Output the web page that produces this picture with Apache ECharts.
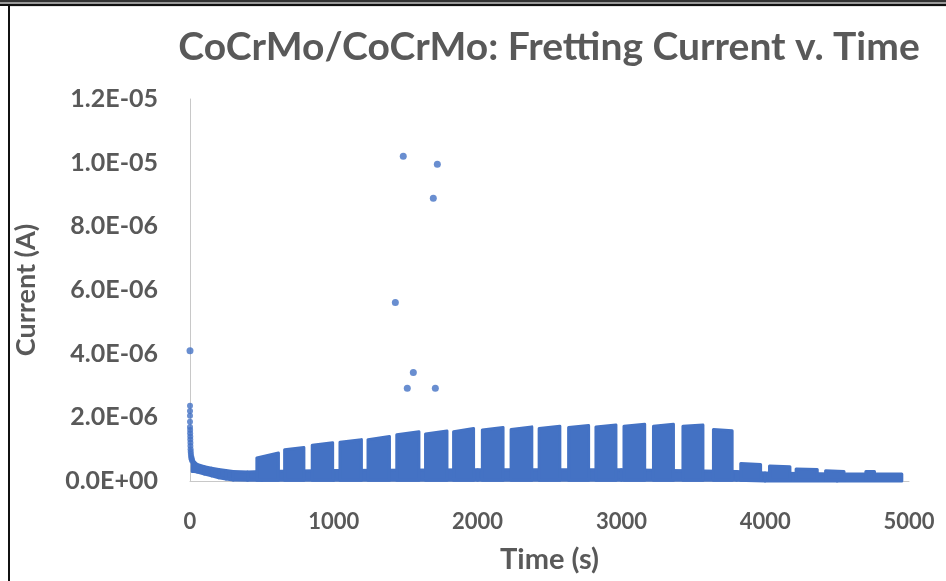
<!DOCTYPE html>
<html>
<head>
<meta charset="utf-8">
<script src="https://cdn.jsdelivr.net/npm/echarts@6/dist/echarts.min.js"></script>
<style>
html,body{margin:0;padding:0;background:#fff;}
#chart{width:946px;height:581px;}
</style>
</head>
<body>
<div id="chart"></div>
<script>
// ---- data (current in microamps, time in seconds) ----
const xTicks = [0, 1000, 2000, 3000, 4000, 5000];
const yTicks = [0, 2, 4, 6, 8, 10, 12];

// isolated spikes
const spikeTime = [0, 1428, 1483, 1511, 1553, 1692, 1706, 1720];
const spikeCurrent = [4.09, 5.61, 10.2, 2.91, 3.41, 8.88, 2.91, 9.95];

// initial transient right after immersion
const decayTime = [0, 0, 0, 0, 0, 1, 1, 2, 2, 3, 3, 4, 5, 6, 8, 10, 12, 15];
const decayCurrent = [2.36, 2.2, 2.05, 1.86, 1.7, 1.6, 1.5, 1.4, 1.3, 1.2, 1.1, 1.0, 0.92, 0.85, 0.78, 0.72, 0.68, 0.64];

// baseline (passive) current band: lower and upper edge of the point cloud
const baseTime = [15, 30, 50, 100, 150, 200, 250, 300, 400, 500, 1000, 2000, 3000, 3800, 4000, 4500, 4950];
const baseHigh = [0.68, 0.6, 0.52, 0.45, 0.4, 0.36, 0.33, 0.3, 0.28, 0.3, 0.33, 0.35, 0.35, 0.3, 0.25, 0.22, 0.22];
const baseLow  = [0.3, 0.3, 0.28, 0.22, 0.16, 0.1, 0.06, 0.03, 0.02, 0.02, 0.02, 0.02, 0.02, 0.02, 0.0, 0.0, 0.0];

// fretting blocks: time span and top of the current cloud at start / end of each block
const blockStart = [465, 658, 850, 1043, 1238, 1438, 1638, 1833, 2033, 2233, 2428, 2633, 2823, 3018, 3223, 3428, 3640, 3830, 4030, 4215, 4420, 4700];
const blockEnd   = [615, 792, 992, 1192, 1387, 1592, 1787, 1972, 2177, 2377, 2572, 2772, 2962, 3162, 3362, 3567, 3770, 3968, 4172, 4362, 4548, 4760];
const blockTopStart = [0.72, 0.98, 1.12, 1.22, 1.3, 1.45, 1.48, 1.55, 1.6, 1.62, 1.65, 1.68, 1.7, 1.72, 1.72, 1.72, 1.62, 0.55, 0.47, 0.38, 0.32, 0.3];
const blockTopEnd   = [0.88, 1.05, 1.2, 1.3, 1.4, 1.55, 1.57, 1.65, 1.68, 1.7, 1.72, 1.74, 1.76, 1.78, 1.78, 1.76, 1.58, 0.52, 0.45, 0.36, 0.3, 0.3];

// ---- build ----
const BLUE = '#4472C4';
const TXT = '#595959';
const FONT = 'Lato, "Open Sans", sans-serif';

function sci(v) {
  const a = v * 1e-6;
  let s = a.toExponential(1);
  let [m, e] = s.split('e');
  let sign = e[0] === '-' ? '-' : '+';
  let d = e.replace(/[+-]/, '');
  if (d.length < 2) d = '0' + d;
  return m + 'E' + sign + d;
}

const spikeData = spikeTime.map((t, i) => [t, spikeCurrent[i]]);
const decayData = decayTime.map((t, i) => [t, decayCurrent[i]]);
const bandData = baseTime.slice(0, -1).map((t, i) => [t, baseTime[i + 1], baseLow[i], baseHigh[i], baseLow[i + 1], baseHigh[i + 1]]);
const blockData = blockStart.map((t, i) => [t, blockEnd[i], blockTopStart[i], blockTopEnd[i]]);

const chart = echarts.init(document.getElementById('chart'), null, {renderer: 'canvas'});
chart.setOption({
  animation: false,
  backgroundColor: '#fff',
  grid: {left: 190, right: 37, top: 99, bottom: 100, containLabel: false},
  graphic: [
    {type: 'rect', shape: {x: 0, y: 0, width: 946, height: 2}, style: {fill: '#333'}},
    {type: 'rect', shape: {x: 0, y: 2, width: 946, height: 2}, style: {fill: '#9a9a9a'}},
    {type: 'rect', shape: {x: 0, y: 4, width: 946, height: 2}, style: {fill: '#111'}},
    {type: 'rect', shape: {x: 10, y: 6, width: 936, height: 1}, style: {fill: '#e4e4e4'}},
    {type: 'rect', shape: {x: 8, y: 4, width: 2, height: 577}, style: {fill: '#111'}},
    {type: 'text', x: 549, y: 47, style: {text: 'CoCrMo/CoCrMo: Fretting Current v. Time', font: 'bold 39px ' + FONT, fill: TXT, textAlign: 'center', textVerticalAlign: 'middle'}}
  ],
  xAxis: {
    type: 'value', min: xTicks[0], max: xTicks[xTicks.length - 1], interval: 1000,
    name: 'Time (s)', nameLocation: 'middle', nameGap: 64,
    nameTextStyle: {color: TXT, fontFamily: FONT, fontWeight: 'bold', fontSize: 29},
    axisLine: {show: true, lineStyle: {color: '#c8c8c8', width: 1}},
    axisTick: {show: false},
    splitLine: {show: false},
    axisLabel: {color: TXT, fontFamily: FONT, fontWeight: 'bold', fontSize: 22, margin: 30, formatter: function (v) { return String(v); }}
  },
  yAxis: {
    type: 'value', min: yTicks[0], max: yTicks[yTicks.length - 1], interval: 2,
    name: 'Current (A)', nameLocation: 'middle', nameGap: 150, nameRotate: 90,
    nameTextStyle: {color: TXT, fontFamily: FONT, fontWeight: 'bold', fontSize: 27},
    axisLine: {show: true, lineStyle: {color: '#c8c8c8', width: 1}},
    axisTick: {show: false},
    splitLine: {show: false},
    axisLabel: {color: TXT, fontFamily: FONT, fontWeight: 'bold', fontSize: 25, margin: 32, formatter: sci}
  },
  series: [
    {
      type: 'custom', name: 'baseline',
      encode: {x: [0, 1], y: [2, 3, 4, 5]},
      data: bandData,
      renderItem: function (params, api) {
        const p = [
          api.coord([api.value(0), api.value(2)]),
          api.coord([api.value(1), api.value(4)]),
          api.coord([api.value(1), api.value(5)]),
          api.coord([api.value(0), api.value(3)])
        ];
        return {type: 'polygon', shape: {points: p}, style: {fill: BLUE, stroke: BLUE, lineWidth: 3, lineJoin: 'round'}};
      }
    },
    {
      type: 'custom', name: 'fretting',
      encode: {x: [0, 1], y: [2, 3]},
      data: blockData,
      renderItem: function (params, api) {
        const t0 = api.value(0), t1 = api.value(1);
        const p = [
          api.coord([t0, 0.02]),
          api.coord([t0, api.value(2)]),
          api.coord([t1, api.value(3)]),
          api.coord([t1, 0.02])
        ];
        return {type: 'polygon', shape: {points: p}, style: {fill: BLUE, stroke: BLUE, lineWidth: 3, lineJoin: 'round'}};
      }
    },
    {
      type: 'scatter', name: 'transient', data: decayData,
      symbol: 'circle', symbolSize: 6, itemStyle: {color: BLUE}
    },
    {
      type: 'scatter', name: 'spikes', data: spikeData,
      symbol: 'circle', symbolSize: 7, itemStyle: {color: BLUE}
    }
  ]
});
</script>
</body>
</html>
